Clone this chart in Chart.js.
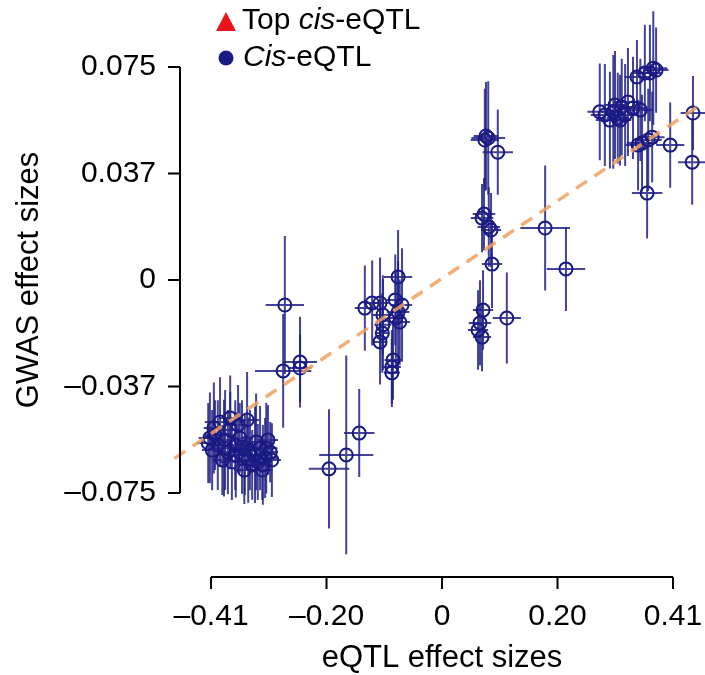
<!DOCTYPE html>
<html>
<head>
<meta charset="utf-8">
<script src="https://cdn.jsdelivr.net/npm/chart.js@4/dist/chart.umd.min.js"></script>
<style>
html,body{margin:0;padding:0;background:#fff;overflow:hidden;}
#wrap{width:705px;height:675px;position:relative;}
</style>
</head>
<body>
<div id="wrap"><canvas id="c"></canvas></div>
<script>
// eQTL effect sizes (x), GWAS effect sizes (y), and half-widths of error bars
const effX = [
  -0.415,-0.394,-0.346,-0.403,-0.385,-0.376,-0.367,-0.408,-0.380,-0.359,-0.398,-0.341,
  -0.332,-0.323,-0.327,-0.314,-0.319,-0.337,-0.305,-0.350,-0.309,-0.362,-0.390,-0.373,
  -0.412,-0.387,-0.366,-0.355,-0.344,-0.330,-0.318,-0.312,-0.302,-0.351,-0.376,-0.405,
  -0.147,-0.170,-0.2006,
  -0.279,-0.282,-0.252,-0.252,
  -0.078,-0.137,-0.124,-0.110,-0.105,-0.078,-0.071,-0.075,-0.105,-0.106,-0.110,-0.087,-0.089,-0.089,-0.082,-0.083,
  0.082,0.076,0.078,0.099,0.0745,0.071,0.083,0.087,0.0887,0.0728,0.0674,0.0639,0.071,0.115,
  0.183,0.220,
  0.289,0.304,0.319,0.330,0.339,0.312,0.298,0.325,0.346,0.375,0.369,0.380,0.355,0.373,0.366,0.405,0.4455,0.444,0.364,
  0.280,0.307,0.316,0.352,0.360,0.348
];
const effY = [
  -0.0574,-0.0500,-0.0493,-0.0546,-0.0563,-0.0528,-0.0581,-0.0599,-0.0606,-0.0556,-0.0581,-0.0599,
  -0.0616,-0.0592,-0.0641,-0.0627,-0.0669,-0.0651,-0.0606,-0.0616,-0.0563,-0.0511,-0.0634,-0.0641,
  -0.0556,-0.0592,-0.0616,-0.0588,-0.0634,-0.0570,-0.0651,-0.0592,-0.0634,-0.0669,-0.0486,-0.0521,
  -0.0539,-0.0616,-0.0665,
  -0.0088,-0.0320,-0.0289,-0.0310,
  0.0011,-0.0099,-0.0081,-0.0081,-0.0123,-0.0113,-0.0088,-0.0148,-0.0158,-0.0187,-0.0218,-0.0282,-0.0306,-0.0327,-0.0134,-0.0070,
  0.0500,0.0493,0.0507,0.0450,0.0232,0.0218,0.0187,0.0176,0.0056,-0.0106,-0.0151,-0.0176,-0.0201,-0.0134,
  0.0183,0.0039,
  0.0581,0.0592,0.0609,0.0627,0.0606,0.0570,0.0563,0.0581,0.0715,0.0746,0.0729,0.0739,0.0482,0.0503,0.0493,0.0475,0.0588,0.0415,0.0306,
  0.0592,0.0616,0.0563,0.0599,0.0729,0.0475
];
const errX = [
  0.021,0.027,0.021,0.018,0.025,0.018,0.021,0.018,0.021,0.018,0.014,0.021,
  0.025,0.021,0.018,0.021,0.018,0.021,0.014,0.018,0.018,0.018,0.018,0.021,
  0.020,0.018,0.020,0.016,0.020,0.018,0.016,0.020,0.016,0.018,0.020,0.018,
  0.027,0.048,0.036,
  0.034,0.050,0.030,0.020,
  0.025,0.018,0.015,0.015,0.018,0.020,0.018,0.018,0.015,0.012,0.012,0.015,0.016,0.014,0.016,0.016,
  0.030,0.025,0.022,0.027,0.020,0.020,0.020,0.018,0.018,0.018,0.020,0.018,0.016,0.025,
  0.044,0.034,
  0.025,0.022,0.020,0.024,0.022,0.020,0.025,0.022,0.022,0.025,0.020,0.022,0.027,0.022,0.024,0.025,0.022,0.025,0.027,
  0.022,0.020,0.020,0.022,0.020,0.022
];
const errY = [
  0.0141,0.0158,0.0169,0.0123,0.0176,0.0134,0.0158,0.0141,0.0148,0.0123,0.0158,0.0141,
  0.0169,0.0148,0.0134,0.0141,0.0106,0.0123,0.0106,0.0141,0.0123,0.0141,0.0123,0.0134,
  0.0160,0.0170,0.0150,0.0165,0.0150,0.0170,0.0140,0.0160,0.0130,0.0120,0.0150,0.0160,
  0.0155,0.0350,0.0210,
  0.0243,0.0200,0.0160,0.0120,
  0.0165,0.0150,0.0150,0.0160,0.0140,0.0180,0.0200,0.0150,0.0160,0.0140,0.0150,0.0140,0.0130,0.0120,0.0170,0.0160,
  0.0200,0.0180,0.0190,0.0150,0.0127,0.0120,0.0140,0.0130,0.0155,0.0140,0.0150,0.0140,0.0120,0.0160,
  0.0220,0.0148,
  0.0180,0.0200,0.0170,0.0190,0.0180,0.0160,0.0170,0.0180,0.0130,0.0200,0.0170,0.0150,0.0170,0.0160,0.0180,0.0150,0.0130,0.0150,0.0160,
  0.0170,0.0190,0.0160,0.0180,0.0170,0.0160
];
// fitted regression line end points
const fitX = [-0.475, 0.455];
const fitY = [-0.0628, 0.0612];
// axis ticks
const xTicks = [-0.41, -0.205, 0, 0.205, 0.41];
const xTickLabels = ['\u20130.41', '\u20130.20', '0', '0.20', '0.41'];
const yTicks = [0.075, 0.0375, 0, -0.0375, -0.075];
const yTickLabels = ['0.075', '0.037', '0', '\u20130.037', '\u20130.075'];

const NAVY = '#1a1a84';
const FONT = '"Liberation Sans", Arial, sans-serif';

const errorBars = {
  id: 'errorBars',
  beforeDatasetsDraw(chart) {
    const {ctx, scales: {x, y}} = chart;
    ctx.save();
    ctx.strokeStyle = 'rgba(34,34,136,0.85)';
    ctx.lineWidth = 2;
    for (let i = 0; i < effX.length; i++) {
      const px = x.getPixelForValue(effX[i]);
      const py = y.getPixelForValue(effY[i]);
      ctx.beginPath();
      ctx.moveTo(x.getPixelForValue(effX[i] - errX[i]), py);
      ctx.lineTo(x.getPixelForValue(effX[i] + errX[i]), py);
      ctx.moveTo(px, y.getPixelForValue(effY[i] - errY[i]));
      ctx.lineTo(px, y.getPixelForValue(effY[i] + errY[i]));
      ctx.stroke();
    }
    ctx.restore();
  }
};

const axesAndLegend = {
  id: 'axesAndLegend',
  afterDraw(chart) {
    const {ctx, scales: {x, y}} = chart;
    ctx.save();
    ctx.strokeStyle = '#000';
    ctx.fillStyle = '#000';
    ctx.lineWidth = 2;
    // y axis
    const yAxX = 180;
    ctx.beginPath();
    ctx.moveTo(yAxX, y.getPixelForValue(yTicks[0]));
    ctx.lineTo(yAxX, y.getPixelForValue(yTicks[yTicks.length - 1]));
    yTicks.forEach(v => {
      const p = y.getPixelForValue(v);
      ctx.moveTo(yAxX, p); ctx.lineTo(yAxX - 12, p);
    });
    ctx.stroke();
    ctx.font = '30px ' + FONT;
    ctx.textAlign = 'right';
    ctx.textBaseline = 'middle';
    yTicks.forEach((v, i) => ctx.fillText(yTickLabels[i], 156, y.getPixelForValue(v)));
    // x axis
    const xAxY = 577;
    ctx.beginPath();
    ctx.moveTo(x.getPixelForValue(xTicks[0]), xAxY);
    ctx.lineTo(x.getPixelForValue(xTicks[xTicks.length - 1]), xAxY);
    xTicks.forEach(v => {
      const p = x.getPixelForValue(v);
      ctx.moveTo(p, xAxY); ctx.lineTo(p, xAxY + 12);
    });
    ctx.stroke();
    ctx.textAlign = 'center';
    xTicks.forEach((v, i) => ctx.fillText(xTickLabels[i], x.getPixelForValue(v), 617));
    // axis titles
    ctx.font = '31px ' + FONT;
    ctx.fillText('eQTL effect sizes', 442, 658);
    ctx.save();
    ctx.translate(29, 280);
    ctx.rotate(-Math.PI / 2);
    ctx.fillText('GWAS effect sizes', 0, 0);
    ctx.restore();
    // legend
    ctx.fillStyle = '#e8141c';
    ctx.beginPath();
    ctx.moveTo(226, 12); ctx.lineTo(236, 31); ctx.lineTo(216, 31); ctx.closePath();
    ctx.fill();
    ctx.fillStyle = NAVY;
    ctx.beginPath();
    ctx.arc(226, 58, 7.5, 0, Math.PI * 2);
    ctx.fill();
    ctx.fillStyle = '#000';
    ctx.textAlign = 'left';
    const seg = (parts, x0, yy) => {
      let cx = x0;
      parts.forEach(([t, it]) => {
        ctx.font = (it ? 'italic ' : '') + '30px ' + FONT;
        ctx.fillText(t, cx, yy);
        cx += ctx.measureText(t).width;
      });
    };
    seg([['Top ', false], ['cis', true], ['-eQTL', false]], 242, 21);
    seg([['Cis', true], ['-eQTL', false]], 243, 58);
    ctx.restore();
  }
};

const pts = effX.map((v, i) => ({x: v, y: effY[i]}));
const fitPts = fitX.map((v, i) => ({x: v, y: fitY[i]}));

new Chart(document.getElementById('c'), {
  type: 'scatter',
  data: {
    datasets: [
      {
        type: 'line',
        data: fitPts,
        borderColor: 'rgba(238,160,95,0.85)',
        borderWidth: 3.5,
        borderDash: [13, 9],
        pointRadius: 0,
        fill: false,
        order: 0,
        clip: false
      },
      {
        data: pts,
        pointStyle: 'circle',
        pointRadius: 6.5,
        pointBorderWidth: 2,
        pointBorderColor: NAVY,
        pointBackgroundColor: 'rgba(0,0,0,0)',
        borderColor: NAVY,
        backgroundColor: 'rgba(0,0,0,0)',
        showLine: false,
        order: 1,
        clip: false
      }
    ]
  },
  options: {
    responsive: true,
    maintainAspectRatio: false,
    animation: false,
    layout: {autoPadding: false, padding: {left: 171.6, right: 1, top: 24.4, bottom: 111}},
    plugins: {legend: {display: false}, tooltip: {enabled: false}},
    scales: {
      x: {type: 'linear', min: -0.48, max: 0.465, display: false},
      y: {type: 'linear', min: -0.1, max: 0.09, display: false}
    }
  },
  plugins: [errorBars, axesAndLegend]
});
</script>
</body>
</html>
